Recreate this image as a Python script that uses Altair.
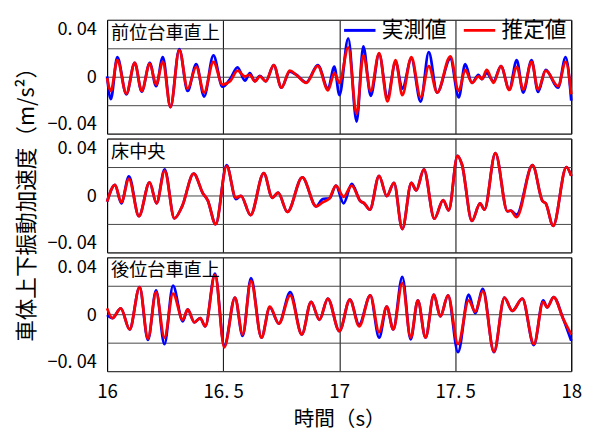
import altair as alt
import pandas as pd

X_TICKS = [16, 16.5, 17, 17.5, 18]
X_LABELS = ["16", "16. 5", "17", "17. 5", "18"]
Y_TICKS = [-0.04, -0.02, 0, 0.02, 0.04]
Y_LABELS = ["−0. 04", "", "0", "", "0. 04"]
SERIES = ["実測値", "推定値"]
COLORS = ["#0000ff", "#ff0000"]
PANEL_NAMES = ["前位台車直上", "床中央", "後位台車直上"]
X_TITLE = "時間（s）"
Y_TITLE = "車体上下振動加速度（m/s²）"

# Panel 1 : 前位台車直上
P1_T = [16.0, 16.016, 16.044, 16.083, 16.119, 16.149, 16.184, 16.211, 16.240, 16.273,
        16.311, 16.347, 16.384, 16.418, 16.458, 16.497, 16.530, 16.562, 16.594, 16.615,
        16.637, 16.658, 16.684, 16.718, 16.751, 16.787, 16.815, 16.858, 16.908, 16.952,
        16.979, 17.001, 17.039, 17.075, 17.104, 17.136, 17.172, 17.208, 17.243, 17.272,
        17.311, 17.351, 17.386, 17.422, 17.479, 17.515, 17.543, 17.572, 17.600, 17.615,
        17.636, 17.665, 17.697, 17.733, 17.765, 17.793, 17.829, 17.857, 17.890, 17.943,
        17.976, 18.0]
P1_RED = [-0.0009, -0.0100, 0.0116, -0.0118, 0.0098, -0.0100, 0.0093, -0.0055, 0.0104, -0.0213,
          0.0188, -0.0084, 0.0070, -0.0111, 0.0104, -0.0055, -0.0032, 0.0043, 0.0002, 0.0014,
          -0.0032, 0.0002, -0.0032, 0.0082, -0.0077, 0.0043, 0.0014, -0.0043, 0.0077, -0.0095,
          0.0025, -0.0043, 0.0207, -0.0259, 0.0150, -0.0100, 0.0166, -0.0173, 0.0116, -0.0129,
          0.0138, -0.0145, 0.0075, -0.0111, 0.0143, -0.0100, 0.0048, -0.0043, 0.0002, -0.0016,
          0.0048, -0.0043, 0.0075, -0.0093, 0.0070, -0.0089, 0.0104, -0.0089, 0.0043, -0.0066,
          0.0104, -0.0123]
P1_BLUE = [0.0002, -0.0157, 0.0138, -0.0123, 0.0098, -0.0104, 0.0098, -0.0066, 0.0138, -0.0213,
           0.0195, -0.0100, 0.0089, -0.0139, 0.0150, -0.0070, -0.0016, 0.0066, -0.0027, 0.0025,
           -0.0032, 0.0007, -0.0032, 0.0082, -0.0077, 0.0036, 0.0014, -0.0039, 0.0082, -0.0084,
           0.0072, -0.0129, 0.0270, -0.0316, 0.0213, -0.0134, 0.0161, -0.0145, 0.0104, -0.0084,
           0.0127, -0.0175, 0.0173, -0.0111, 0.0127, -0.0145, 0.0089, -0.0043, 0.0014, -0.0016,
           0.0025, -0.0032, 0.0075, -0.0089, 0.0116, -0.0111, 0.0116, -0.0107, 0.0048, -0.0077,
           0.0138, -0.0168]

# Panel 2 : 床中央
P2_T = [16.0, 16.034, 16.061, 16.094, 16.137, 16.183, 16.213, 16.248, 16.290, 16.323,
        16.373, 16.413, 16.433, 16.468, 16.515, 16.555, 16.577, 16.618, 16.675, 16.712,
        16.737, 16.777, 16.841, 16.901, 16.929, 16.958, 16.986, 17.019, 17.054, 17.091,
        17.108, 17.132, 17.172, 17.205, 17.236, 17.272, 17.311, 17.332, 17.365, 17.410,
        17.448, 17.472, 17.510, 17.529, 17.572, 17.607, 17.626, 17.673, 17.725, 17.739,
        17.765, 17.833, 17.876, 17.890, 17.922, 17.979, 18.0]
P2_RED = [-0.0043, 0.0075, -0.0048, 0.0116, -0.0145, 0.0093, -0.0055, 0.0173, -0.0161, -0.0077,
          0.0154, 0.0014, -0.0032, -0.0202, 0.0207, -0.0016, -0.0002, -0.0138, 0.0157, -0.0016,
          0.0020, -0.0116, 0.0127, -0.0077, -0.0048, -0.0020, 0.0070, -0.0009, 0.0070, -0.0039,
          -0.0055, -0.0100, 0.0138, -0.0005, 0.0089, -0.0236, 0.0089, 0.0036, 0.0184, -0.0163,
          -0.0032, -0.0104, 0.0279, 0.0218, -0.0179, -0.0055, -0.0100, 0.0297, -0.0111, -0.0107,
          -0.0152, 0.0213, -0.0039, -0.0055, -0.0213, 0.0200, 0.0138]
P2_BLUE = [-0.0043, 0.0075, -0.0055, 0.0134, -0.0145, 0.0093, -0.0055, 0.0184, -0.0161, -0.0077,
           0.0154, 0.0014, -0.0032, -0.0202, 0.0213, -0.0025, -0.0002, -0.0138, 0.0157, -0.0016,
           0.0020, -0.0116, 0.0127, -0.0077, -0.0025, -0.0020, 0.0070, -0.0055, 0.0082, -0.0039,
           -0.0055, -0.0100, 0.0138, -0.0005, 0.0089, -0.0236, 0.0089, 0.0036, 0.0184, -0.0163,
           -0.0032, -0.0104, 0.0279, 0.0218, -0.0179, -0.0055, -0.0100, 0.0297, -0.0111, -0.0107,
           -0.0134, 0.0213, -0.0039, -0.0055, -0.0213, 0.0200, 0.0138]

# Panel 3 : 後位台車直上
P3_T = [16.0, 16.023, 16.059, 16.097, 16.140, 16.176, 16.211, 16.247, 16.284, 16.326,
        16.347, 16.376, 16.401, 16.423, 16.465, 16.505, 16.551, 16.584, 16.620, 16.665,
        16.701, 16.740, 16.789, 16.839, 16.879, 16.915, 16.951, 17.001, 17.046, 17.086,
        17.134, 17.172, 17.205, 17.233, 17.272, 17.308, 17.339, 17.372, 17.408, 17.436,
        17.469, 17.512, 17.558, 17.586, 17.619, 17.667, 17.712, 17.746, 17.789, 17.839,
        17.879, 17.896, 17.924, 17.964, 18.0]
P3_RED = [0.0041, -0.0027, 0.0041, -0.0107, 0.0190, -0.0171, 0.0155, -0.0165, 0.0144, -0.0039,
          0.0034, -0.0057, -0.0027, -0.0085, 0.0277, -0.0233, 0.0117, -0.0142, 0.0235, -0.0165,
          0.0053, -0.0066, 0.0133, -0.0142, 0.0087, -0.0039, 0.0110, -0.0119, 0.0103, -0.0085,
          0.0133, -0.0126, 0.0053, -0.0107, 0.0219, -0.0165, 0.0098, -0.0165, 0.0137, -0.0016,
          0.0133, -0.0210, 0.0098, 0.0018, 0.0162, -0.0263, 0.0117, 0.0023, 0.0110, -0.0210,
          0.0087, 0.0048, 0.0121, -0.0027, -0.0142]
P3_BLUE = [-0.0005, -0.0027, 0.0041, -0.0107, 0.0190, -0.0181, 0.0167, -0.0210, 0.0201, -0.0050,
           0.0034, -0.0057, -0.0027, -0.0085, 0.0286, -0.0222, 0.0117, -0.0153, 0.0254, -0.0165,
           0.0048, -0.0066, 0.0155, -0.0142, 0.0087, -0.0039, 0.0110, -0.0119, 0.0103, -0.0073,
           0.0133, -0.0165, 0.0053, -0.0107, 0.0263, -0.0176, 0.0098, -0.0165, 0.0137, -0.0016,
           0.0133, -0.0267, 0.0137, 0.0007, 0.0178, -0.0267, 0.0117, 0.0023, 0.0110, -0.0217,
           0.0098, 0.0048, 0.0121, -0.0027, -0.0187]

CJK = "Noto Sans CJK JP"
NUM = "Liberation Sans Narrow, Noto Sans CJK JP, sans-serif"


def label_expr(vals, labels):
    expr = "''"
    for v, l in zip(reversed(vals), reversed(labels)):
        expr = f"(abs(datum.value - ({v})) < 1e-9 ? '{l}' : {expr})"
    return expr


color_scale = alt.Scale(domain=SERIES, range=COLORS)
PANEL_W = 473


def make_panel(i, name, t, red, blue):
    df_b = pd.DataFrame({"t": t, "v": blue, "s": SERIES[0]})
    df_r = pd.DataFrame({"t": t, "v": red, "s": SERIES[1]})
    last = i == 2
    mid = i == 1

    xaxis_kw = dict(values=X_TICKS, grid=True, gridColor="#000000", gridWidth=1,
                    ticks=False, domain=False, labels=last, labelFlush=False)
    if last:
        xaxis_kw.update(labelExpr=label_expr(X_TICKS, X_LABELS), labelFontSize=19,
                        labelFont=NUM, labelPadding=12, titleFontSize=21,
                        titleFont=CJK, titlePadding=7)
    x = alt.X("t:Q", scale=alt.Scale(domain=[16, 18], nice=False, zero=False),
              axis=alt.Axis(**xaxis_kw), title=X_TITLE if last else None)

    yaxis_kw = dict(values=Y_TICKS, grid=True, gridColor="#444444", gridWidth=1,
                    ticks=False, domain=False, labelFlush=True,
                    labelExpr=label_expr(Y_TICKS, Y_LABELS), labelFontSize=18.5,
                    labelFont=NUM, labelPadding=11)
    if mid:
        yaxis_kw.update(titleX=-82, titleY=61.5, titleAngle=270, titleAlign="center",
                        titleBaseline="middle", titleFontSize=22, titleFont=NUM)
    y = alt.Y("v:Q", scale=alt.Scale(domain=[-0.04, 0.04], nice=False, zero=False),
              axis=alt.Axis(**yaxis_kw), title=Y_TITLE if mid else None)

    if i == 0:
        legend = alt.Legend(orient="none", legendX=240, legendY=-7, direction="horizontal",
                            title=None, symbolType="stroke", symbolSize=1024,
                            symbolStrokeWidth=3, labelFontSize=22, labelFont=CJK,
                            labelOffset=5, columnPadding=10, padding=0, labelLimit=0)
    else:
        legend = None
    color = alt.Color("s:N", scale=color_scale, legend=legend)

    blue_line = alt.Chart(df_b).mark_line(strokeWidth=2.8, interpolate="monotone").encode(
        x=x, y=y, color=color)
    red_line = alt.Chart(df_r).mark_line(strokeWidth=2.8, interpolate="monotone").encode(
        x=x, y=y, color=color)
    label = alt.Chart(pd.DataFrame({"name": [name]})).mark_text(
        align="left", baseline="middle", fontSize=18.5, font=CJK, color="#000000"
    ).encode(text="name:N", x=alt.value(4), y=alt.value(13.5))

    return alt.layer(blue_line, red_line, label).properties(width=PANEL_W, height=116)


panels = [
    make_panel(0, PANEL_NAMES[0], P1_T, P1_RED, P1_BLUE),
    make_panel(1, PANEL_NAMES[1], P2_T, P2_RED, P2_BLUE),
    make_panel(2, PANEL_NAMES[2], P3_T, P3_RED, P3_BLUE),
]

chart = alt.vconcat(*panels, spacing=5, bounds="flush").resolve_scale(
    color="independent"
).properties(
    padding={"left": 7, "top": 0, "right": 2, "bottom": 0}
).configure_view(
    stroke="#000000", strokeWidth=1
).configure_axis(
    gridOpacity=1, labelColor="#000000", titleColor="#000000", titleFontWeight="normal"
)

chart.save("out.html", embed_options={"renderer": "svg", "actions": False})
